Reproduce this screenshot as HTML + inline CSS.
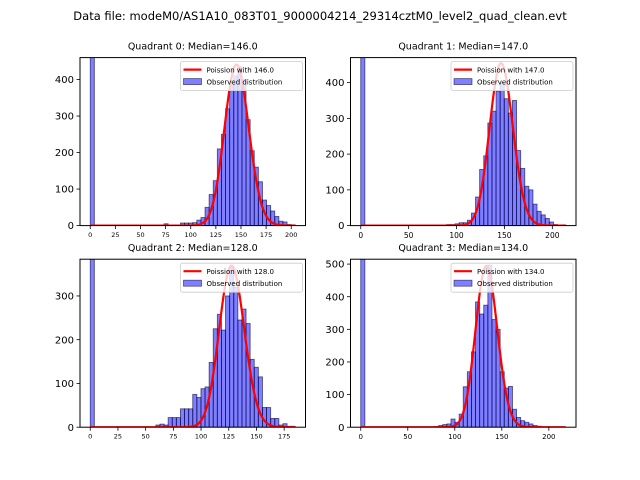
<!DOCTYPE html>
<html><head><meta charset="utf-8"><style>
body{margin:0;background:#fff}
svg{display:block;font-family:"DejaVu Sans","Liberation Sans",sans-serif}
</style></head><body>
<svg id="fig" width="640" height="480" viewBox="0 0 640 480">
<rect width="640" height="480" fill="#fff"/>
<text x="320" y="20" text-anchor="middle" font-size="11.5">Data file: modeM0/AS1A10_083T01_9000004214_29314cztM0_level2_quad_clean.evt</text>
</svg>
<script>
// ---- data ----
const q0Counts=[3000,0,0,0,0,0,0,0,0,0,0,0,0,0,0,0,0,0,5,0,0,0,7,7,7,8,15,22,50,85,123,210,250,320,385,410,435,400,290,205,160,120,70,55,40,25,12,10,3,2];
const q1Counts=[3000,0,0,0,0,0,0,0,0,0,0,0,0,0,0,0,0,0,0,0,0,3,3,5,8,8,15,35,80,157,195,287,320,376,400,355,315,350,210,160,110,100,60,40,30,20,10,3,0,2];
const q2Counts=[3000,0,0,0,0,0,0,0,0,0,0,0,0,0,0,0,5,7,5,22,22,22,42,42,42,75,68,88,92,148,225,258,222,300,365,320,245,270,237,155,137,115,45,45,20,20,5,8,2,2];
const q3Counts=[3000,0,0,0,0,0,0,0,0,0,0,0,0,0,0,0,0,0,2,5,8,10,25,15,40,124,170,231,384,347,374,497,330,300,170,120,125,55,30,20,15,10,5,3,0,0];
const medians=[146.0,147.0,128.0,134.0];
const dataMax=[204,214,185,218];
const poissonPeak=[441,454,369,494];
const xTicks=[[0,25,50,75,100,125,150,175,200],[0,50,100,150,200],[0,25,50,75,100,125,150,175],[0,50,100,150,200]];
const yTicks=[[0,100,200,300,400],[0,100,200,300,400],[0,100,200,300],[0,100,200,300,400,500]];
const yMax=[460,470,384,515];
const xFontSize=[6.5,7.5,6.5,7];
// ---- layout ----
const NS="http://www.w3.org/2000/svg";
const svg=document.getElementById('fig');
const boxes=[[80,57.6],[350.5,57.6],[80,259.2],[350.5,259.2]];
const W=225.5,H=168;
const allCounts=[q0Counts,q1Counts,q2Counts,q3Counts];
function mk(tag,attrs,parent){const e=document.createElementNS(NS,tag);for(const k in attrs)e.setAttribute(k,attrs[k]);(parent||svg).appendChild(e);return e;}
function logFact(n){let s=0;for(let i=2;i<=n;i++)s+=Math.log(i);return s;}
for(let q=0;q<4;q++){
  const [x0,y0]=boxes[q];
  const counts=allCounts[q];
  const bw=dataMax[q]/50;
  const m=dataMax[q]*0.05;
  const xmin=-m,xmax=dataMax[q]+m;
  const X=v=>x0+(v-xmin)/(xmax-xmin)*W;
  const Y=v=>y0+H-v/yMax[q]*H;
  const g=mk('g',{});
  
  
  const cp=mk('clipPath',{id:'c'+q},g);
  mk('rect',{x:x0,y:y0,width:W,height:H},cp);
  const t=mk('text',{x:x0+W/2,y:y0-8,'text-anchor':'middle','font-size':'9.5'},g);
  t.textContent='Quadrant '+q+': Median='+medians[q].toFixed(1);
  
  
  const bars=mk('g',{'clip-path':'url(#c'+q+')'},g);
  counts.forEach((c,i)=>{
    if(c<=0)return;
    const r=mk('rect',{x:X(i*bw),y:Y(c),width:X((i+1)*bw)-X(i*bw),height:Y(0)-Y(c),fill:'rgba(0,0,255,0.5)',stroke:'rgba(0,0,60,0.6)','stroke-width':'0.9'},bars);
    
    
  });
  const mu=medians[q];const muk=Math.round(mu);
  const lpPeak=muk*Math.log(mu)-mu-logFact(muk);
  let pts=[];
  for(let k=0;k<=Math.round(dataMax[q]);k++){
    const lp=k*Math.log(mu)-mu-logFact(k);
    pts.push(X(k).toFixed(2)+','+Y(poissonPeak[q]*Math.exp(lp-lpPeak)).toFixed(2));
  }
  const pl=mk('polyline',{points:pts.join(' '),fill:'none',stroke:'#ff0000','stroke-width':'2.2','clip-path':'url(#c'+q+')'},g);
  
  
  mk('rect',{x:x0,y:y0,width:W,height:H,fill:'none',stroke:'#000','stroke-width':'1'},g);
  xTicks[q].forEach(v=>{
    mk('line',{x1:X(v),x2:X(v),y1:y0+H,y2:y0+H+3.5,stroke:'#000','stroke-width':'0.8'},g);
    const tt=mk('text',{x:X(v),y:y0+H+5+xFontSize[q],'text-anchor':'middle','font-size':xFontSize[q]},g);
    tt.textContent=v;
    
    
  });
  yTicks[q].forEach(v=>{
    mk('line',{x1:x0-3.5,x2:x0,y1:Y(v),y2:Y(v),stroke:'#000','stroke-width':'0.8'},g);
    const tt=mk('text',{x:x0-6,y:Y(v)+3.6,'text-anchor':'end','font-size':'10'},g);
    tt.textContent=v;
    
    
  });
  const lg=mk('g',{},g);
  
  
  const lx=x0+W-125,ly=y0+4;
  mk('rect',{x:lx,y:ly,width:122,height:29,rx:2,fill:'rgba(255,255,255,0.8)',stroke:'#ccc','stroke-width':'0.8'},lg);
  mk('line',{x1:lx+3,x2:lx+21,y1:ly+8,y2:ly+8,stroke:'#ff0000','stroke-width':'2.2'},lg);
  mk('rect',{x:lx+3,y:ly+17,width:18,height:6,fill:'rgba(0,0,255,0.5)',stroke:'rgba(0,0,60,0.6)','stroke-width':'0.8'},lg);
  const l1=mk('text',{x:lx+26,y:ly+11,'font-size':'7'},lg);l1.textContent='Poission with '+medians[q].toFixed(1);
  
  
  const l2=mk('text',{x:lx+26,y:ly+23,'font-size':'7'},lg);l2.textContent='Observed distribution';
  
  
}
</script>
</body></html>
